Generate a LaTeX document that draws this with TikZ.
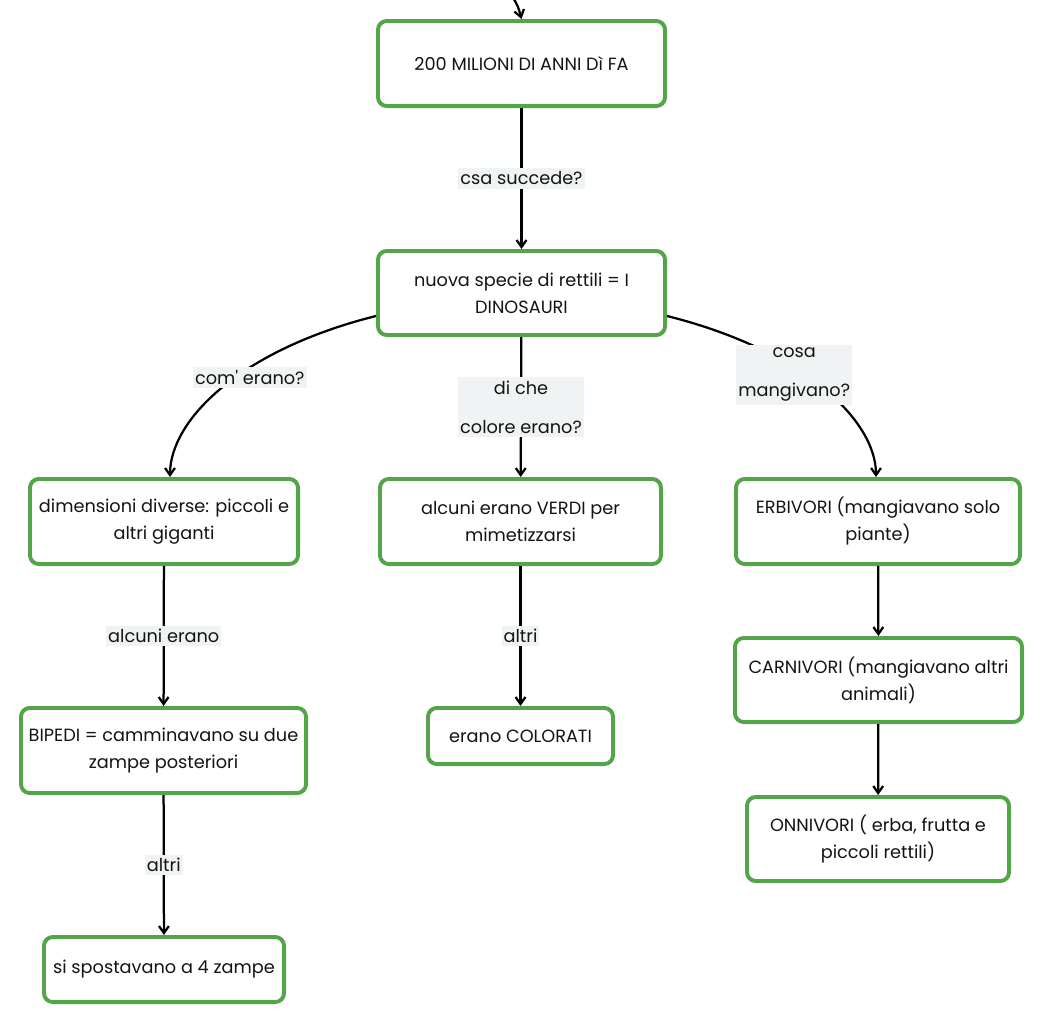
\documentclass[tikz,border=0pt]{standalone}
\usepackage{fontspec}
\setmainfont{Poppins}
\usetikzlibrary{positioning, arrows.meta}
\definecolor{boxColor}{RGB}{84,164,73}
\definecolor{labelColor}{RGB}{240,243,243}
\definecolor{textColor}{RGB}{20,20,20}
\newcommand{\conceptFont}{\fontsize{12.6}{19.2}\selectfont}
\tikzstyle{mapStyle} = [x = .025cm, y = -.025cm]
\tikzstyle{conceptStyle} = [draw=boxColor, fill=white, line width=2.8pt, rounded corners = .22cm, align=center, font=\conceptFont, text=textColor, inner sep=0pt]
\tikzstyle{linkStyle} = [draw=black, line width=1.6pt, -{Straight Barb[length=5pt, width=7pt]}]
\tikzstyle{linkText} = [fill=labelColor, font=\conceptFont, text=textColor, inner xsep=1.5pt, inner ysep=2.5pt, midway, align=center]
\newcommand{\concept}[6]{\node [conceptStyle, minimum width = #4 * .025cm - 2.8pt, minimum height = #5 * .025cm - 2.8pt] (#1) at (#2, #3) {#6};}

\begin{document}
\begin{tikzpicture}[mapStyle]
  \useasboundingbox (0,0) rectangle (1044,1026);
  \clip (0,0) rectangle (1044,1026);

  \concept{start}{521.5}{63.5}{291}{89}{200 MILIONI DI ANNI Dì FA}
  \concept{dinosaurs}{521.5}{293}{291}{88}{nuova specie di rettili = I\\DINOSAURI}
  \concept{size}{164}{521.5}{272}{89}{dimensioni diverse: piccoli e\\altri giganti}
  \concept{green}{520.5}{521.5}{285}{89}{alcuni erano VERDI per\\mimetizzarsi}
  \concept{herbivores}{878}{521.5}{288}{89}{ERBIVORI (mangiavano solo\\piante)}
  \concept{bipeds}{163.5}{750.5}{289}{89}{BIPEDI = camminavano su due\\zampe posteriori}
  \concept{coloured}{520.5}{736}{189}{60}{erano COLORATI}
  \concept{carnivores}{878.5}{680}{291}{88}{CARNIVORI (mangiavano altri\\animali)}
  \concept{omnivores}{878}{839}{266}{88}{ONNIVORI ( erba, frutta e\\piccoli rettili)}
  \concept{quadrupeds}{164}{969.5}{244}{69}{si spostavano a 4 zampe}

  \coordinate (incoming) at (512,-4);
  \draw [linkStyle] (incoming) .. controls (518,6) .. (start.north);
  \draw [linkStyle] (start) -- node [linkText] {csa succede?} (dinosaurs);

  \draw [linkStyle] ([yshift=-.575cm]dinosaurs.west) .. controls +(-136,34) and +(0,-57) .. node [linkText, pos=.38, yshift=-.245cm] {com\textquotesingle{} erano?} ([xshift=.15cm]size.north);
  \draw [linkStyle] (dinosaurs) -- node [linkText] {di che\\[8.5pt]colore erano?} (green);
  \draw [linkStyle] ([yshift=-.575cm]dinosaurs.east) .. controls +(136,34) and +(0,-57) .. node [linkText, pos=.38, yshift=-.18cm] {cosa\\[8.5pt]mangivano?} ([xshift=-.05cm]herbivores.north);

  \draw [linkStyle] (size) -- node [linkText] {alcuni erano} (bipeds);
  \draw [linkStyle] (bipeds) -- node [linkText] {altri} (quadrupeds);
  \draw [linkStyle] (green) -- node [linkText] {altri} (coloured);
  \draw [linkStyle] (herbivores) -- (carnivores);
  \draw [linkStyle] (carnivores) -- (omnivores);
\end{tikzpicture}
\end{document}
